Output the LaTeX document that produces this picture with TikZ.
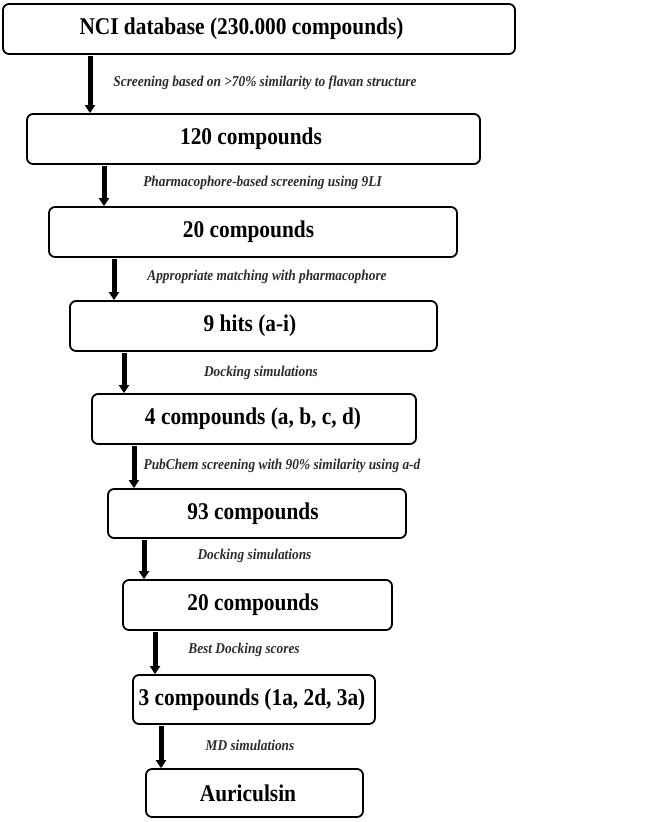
\documentclass[tikz,border=0pt]{standalone}
\usepackage{fontspec}
\setmainfont{Liberation Serif}
\newfontfamily\boxfont[FakeStretch=0.89]{Liberation Serif}
\newfontfamily\labfont[FakeStretch=0.89]{Liberation Serif}
\usetikzlibrary{arrows.meta}
\definecolor{labgray}{HTML}{2B2B2B}
\tikzset{
  stagebox/.style={draw=black, line width=1.8pt, rounded corners=6pt, fill=white, inner sep=0pt, minimum height=50pt},
  boxtext/.style={inner sep=0pt, font=\boxfont\bfseries\fontsize{24}{27}\selectfont},
  steplabel/.style={inner sep=0pt, text=labgray, font=\labfont\bfseries\itshape\fontsize{15}{17}\selectfont},
  arr/.style={line width=5pt, -{Triangle[width=10pt,length=8pt]}}
}
\begin{document}
\begin{tikzpicture}[x=1pt,y=-1pt]
\useasboundingbox (0,0) rectangle (655,822);
% boxes
\node[stagebox, minimum width=512pt] (b1) at (259,29) {};
\node[stagebox, minimum width=453pt] (b2) at (253.5,139) {};
\node[stagebox, minimum width=408pt] (b3) at (253,232) {};
\node[stagebox, minimum width=367pt] (b4) at (253.5,326) {};
\node[stagebox, minimum width=324pt] (b5) at (254,419) {};
\node[stagebox, minimum width=298pt, minimum height=49pt] (b6) at (257,513.5) {};
\node[stagebox, minimum width=269pt] (b7) at (257.5,605) {};
\node[stagebox, minimum width=242pt, minimum height=49pt] (b8) at (254,699.5) {};
\node[stagebox, minimum width=217pt, minimum height=48pt] (b9) at (254.5,793) {};
% box texts
\node[boxtext] (t1) at (241.5,29) {NCI database (230.000 compounds)};
\node[boxtext] (t2) at (251,139) {120 compounds};
\node[boxtext] (t3) at (248.5,232) {20 compounds};
\node[boxtext] (t4) at (250,326) {9 hits (a-i)};
\node[boxtext] (t5) at (253,419) {4 compounds (a, b, c, d)};
\node[boxtext] (t6) at (253,513.5) {93 compounds};
\node[boxtext] (t7) at (253,605) {20 compounds};
\node[boxtext] (t8) at (252,699.5) {3 compounds (1a, 2d, 3a)};
\node[boxtext] (t9) at (248,793) {Auriculsin};
% arrows
\draw[arr] ([yshift=-1pt]b1.south -| 90,0) -- (b2.north -| 90,0);
\draw[arr] ([yshift=-1pt]b2.south -| 104,0) -- (b3.north -| 104,0);
\draw[arr] ([yshift=-1pt]b3.south -| 114,0) -- (b4.north -| 114,0);
\draw[arr] ([yshift=-1pt]b4.south -| 124,0) -- (b5.north -| 124,0);
\draw[arr] ([yshift=-1pt]b5.south -| 134,0) -- (b6.north -| 134,0);
\draw[arr] ([yshift=-1pt]b6.south -| 144,0) -- (b7.north -| 144,0);
\draw[arr] ([yshift=-1pt]b7.south -| 155,0) -- (b8.north -| 155,0);
\draw[arr] ([yshift=-1pt]b8.south -| 161,0) -- (b9.north -| 161,0);
% labels
\node[steplabel] (l1) at (265,83) {Screening based on >70\% similarity to flavan structure};
\node[steplabel] (l2) at (262.5,183) {Pharmacophore-based screening using 9LI};
\node[steplabel] (l3) at (267,277) {Appropriate matching with pharmacophore};
\node[steplabel] (l4) at (261,373) {Docking simulations};
\node[steplabel] (l5) at (282,466) {PubChem screening with 90\% similarity using a-d};
\node[steplabel] (l6) at (254.5,556) {Docking simulations};
\node[steplabel] (l7) at (244,650) {Best Docking scores};
\node[steplabel] (l8) at (250,745) {MD simulations};
\end{tikzpicture}
\end{document}
